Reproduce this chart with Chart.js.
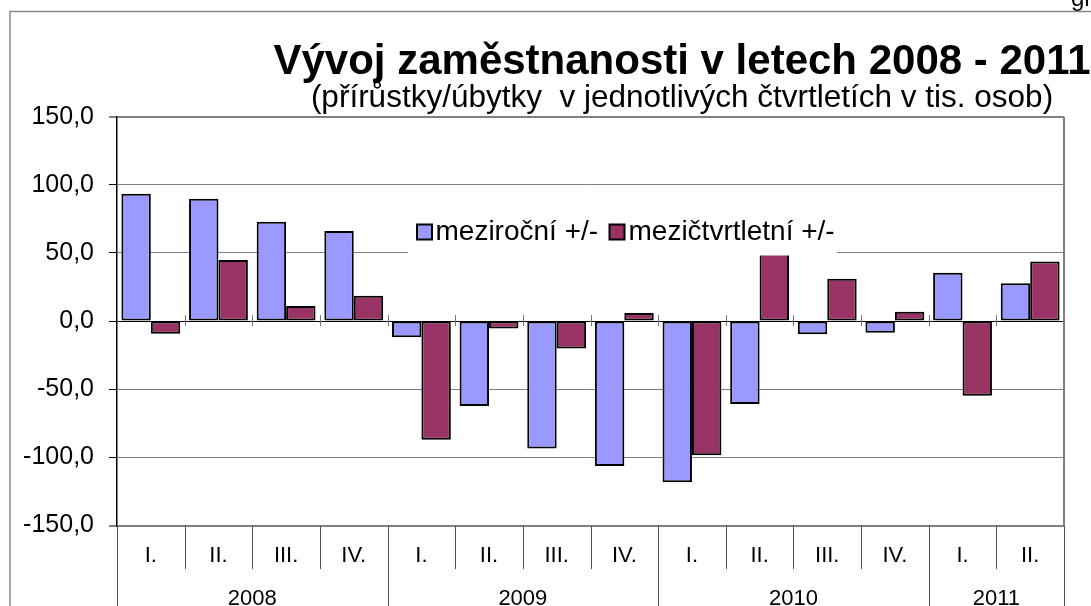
<!DOCTYPE html>
<html>
<head>
<meta charset="utf-8">
<title>Vývoj zaměstnanosti v letech 2008 - 2011</title>
<script src="https://cdn.jsdelivr.net/npm/chart.js@4.4.1/dist/chart.umd.min.js"></script>
<style>
  html, body { margin: 0; padding: 0; background: #fff; overflow: hidden; }
  #wrap { position: relative; width: 1091px; height: 606px; }
</style>
</head>
<body>
<div id="wrap"><canvas id="chart"></canvas></div>
<script>
// values (thousand persons)
const quarters = ['I.', 'II.', 'III.', 'IV.', 'I.', 'II.', 'III.', 'IV.', 'I.', 'II.', 'III.', 'IV.', 'I.', 'II.'];
const years = ['2008', '2009', '2010', '2011'];
const yearSpans = [4, 4, 4, 2];
const yoyChange = [93.5, 89.7, 73.0, 66.2, -11.8, -62.3, -93.5, -106.4, -118.2, -60.8, -9.6, -8.6, 35.5, 27.7];
const qoqChange = [-9.3, 44.8, 11.0, 18.6, -87.0, -5.4, -20.1, 5.9, -98.5, 55.0, 31.1, 6.8, -54.7, 43.8];
const yTicks = [-150, -100, -50, 0, 50, 100, 150];
const seriesNames = ['meziroční +/-', 'mezičtvrtletní +/-'];
const titleText = 'Vývoj zaměstnanosti v letech 2008 - 2011';
const subtitleText = '(přírůstky/úbytky  v jednotlivých čtvrtletích v tis. osob)';

const FONT = '"Liberation Sans", Arial, sans-serif';
const W = 1091, H = 606;

// frame, corner note, title and subtitle
const framePlugin = {
  id: 'frame',
  beforeDraw(chart) {
    const ctx = chart.ctx;
    ctx.save();
    ctx.fillStyle = '#fff';
    ctx.fillRect(0, 0, W, H);
    ctx.strokeStyle = '#888';
    ctx.lineWidth = 1.5;
    ctx.beginPath();
    ctx.moveTo(10, H);
    ctx.lineTo(10, 11.5);
    ctx.lineTo(W, 11.5);
    ctx.stroke();

    ctx.fillStyle = '#000';
    ctx.textAlign = 'left';
    ctx.textBaseline = 'alphabetic';
    ctx.font = '24px ' + FONT;
    ctx.fillText('graf', 1071, 6);

    ctx.textAlign = 'center';
    ctx.font = 'bold 42px ' + FONT;
    ctx.fillText(titleText, 682, 74);
    ctx.font = '31.5px ' + FONT;
    ctx.fillText(subtitleText, 682, 106.5);
    ctx.restore();
  },
  beforeDatasetsDraw(chart) {
    const a = chart.chartArea;
    const ctx = chart.ctx;
    ctx.save();
    ctx.strokeStyle = '#808080';
    ctx.lineWidth = 2;
    ctx.beginPath();
    ctx.moveTo(a.right, a.top);
    ctx.lineTo(a.right, a.bottom);
    ctx.stroke();
    ctx.restore();
  }
};

// grouped category axis (years under quarters) and cross ticks on the zero line
const groupAxisPlugin = {
  id: 'groupAxis',
  afterDatasetsDraw(chart) {
    const ctx = chart.ctx;
    const xs = chart.scales.x;
    const ys = chart.scales.y;
    const n = quarters.length;
    const cw = (xs.right - xs.left) / n;
    const y0 = ys.getPixelForValue(0);
    const bottom = chart.chartArea.bottom;

    const yearEdges = [0];
    yearSpans.forEach(s => yearEdges.push(yearEdges[yearEdges.length - 1] + s));

    ctx.save();
    ctx.lineWidth = 1;
    for (let i = 0; i <= n; i++) {
      const x = Math.round(xs.left + i * cw) + 0.5;
      ctx.strokeStyle = '#555';
      ctx.beginPath();
      ctx.moveTo(x, bottom);
      ctx.lineTo(x, yearEdges.includes(i) ? H : 569);
      ctx.stroke();
      if (i > 0 && i < n) {
        ctx.strokeStyle = '#777';
        ctx.beginPath();
        ctx.moveTo(x, y0 - 6);
        ctx.lineTo(x, y0 + 5);
        ctx.stroke();
      }
    }

    ctx.fillStyle = '#000';
    ctx.font = '22px ' + FONT;
    ctx.textAlign = 'center';
    ctx.textBaseline = 'middle';
    years.forEach((yr, k) => {
      const cx = xs.left + (yearEdges[k] + yearEdges[k + 1]) / 2 * cw;
      ctx.fillText(yr, cx, 599);
    });
    ctx.restore();
  }
};

// legend drawn over the plot on a white box, as in the original
const legendPlugin = {
  id: 'boxLegend',
  afterDatasetsDraw(chart) {
    const ctx = chart.ctx;
    const spots = [{sx: 417, tx: 435.5}, {sx: 609.5, tx: 628.5}];
    ctx.save();
    ctx.fillStyle = '#fff';
    ctx.fillRect(408, 210, 429, 45.5);
    ctx.font = '28px ' + FONT;
    ctx.textAlign = 'left';
    ctx.textBaseline = 'alphabetic';
    chart.data.datasets.forEach((ds, i) => {
      const p = spots[i];
      ctx.fillStyle = ds.backgroundColor;
      ctx.fillRect(p.sx, 224.5, 15, 15);
      ctx.strokeStyle = '#000';
      ctx.lineWidth = 2;
      ctx.strokeRect(p.sx, 224.5, 15, 15);
      ctx.fillStyle = '#000';
      ctx.fillText(ds.label, p.tx, 240);
    });
    ctx.restore();
  }
};

const ctx = document.getElementById('chart').getContext('2d');
const chart = new Chart(ctx, {
  type: 'bar',
  data: {
    labels: quarters,
    datasets: [{
      label: seriesNames[0],
      data: yoyChange,
      backgroundColor: '#9999FF',
      borderColor: '#000',
      borderWidth: 2,
      borderSkipped: false
    }, {
      label: seriesNames[1],
      data: qoqChange,
      backgroundColor: '#993366',
      borderColor: '#000',
      borderWidth: 2,
      borderSkipped: false
    }]
  },
  options: {
    responsive: true,
    maintainAspectRatio: false,
    animation: false,
    devicePixelRatio: 1,
    categoryPercentage: 0.87,
    barPercentage: 1.0,
    layout: { padding: { top: 116.7, right: W - 1064, bottom: 0, left: 0 } },
    plugins: {
      legend: { display: false },
      title: { display: false },
      tooltip: { enabled: false }
    },
    scales: {
      x: {
        grid: { display: false, drawTicks: false },
        border: { display: false },
        ticks: {
          font: { family: FONT, size: 22 },
          color: '#000',
          padding: 17,
          maxRotation: 0,
          autoSkip: false
        },
        afterFit(scale) { scale.height = 80.5; }
      },
      y: {
        min: -150,
        max: 150,
        afterBuildTicks(scale) { scale.ticks = yTicks.map(v => ({ value: v })); },
        grid: {
          color: c => (c.tick && c.tick.value === 0) ? '#000' : '#808080',
          lineWidth: c => (c.tick && Math.abs(c.tick.value) === 150) ? 2 : 1,
          tickColor: '#000',
          tickLength: 8,
          tickWidth: 1
        },
        border: { display: true, color: '#000', width: 1.5 },
        ticks: {
          font: { family: FONT, size: 25 },
          color: '#000',
          padding: 15,
          callback: v => v.toFixed(1).replace('.', ',')
        },
        afterFit(scale) { scale.width = 117; }
      }
    }
  },
  plugins: [framePlugin, groupAxisPlugin, legendPlugin]
});
</script>
</body>
</html>
